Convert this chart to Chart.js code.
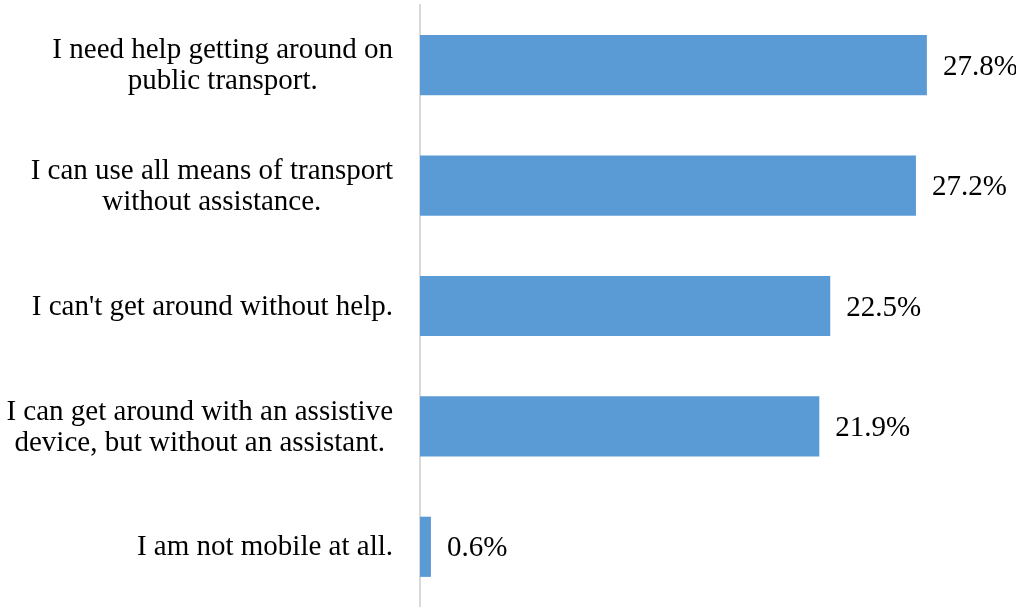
<!DOCTYPE html>
<html>
<head>
<meta charset="utf-8">
<script src="https://cdn.jsdelivr.net/npm/chart.js@4.4.1/dist/chart.umd.min.js"></script>
<style>
  html, body { margin: 0; padding: 0; background: #fff; }
  #wrap { width: 1016px; height: 607px; position: relative; }
</style>
</head>
<body>
<div id="wrap"><canvas id="chart1"></canvas></div>
<script>
const categories = [
  ['I need help getting around on', 'public transport.'],
  ['I can use all means of transport', 'without assistance.'],
  ["I can't get around without help."],
  ['I can get around with an assistive', 'device, but without an assistant.'],
  ['I am not mobile at all.']
];
const values = [27.8, 27.2, 22.5, 21.9, 0.6];

const FONT = '29px "Liberation Serif", "Times New Roman", serif';

// category labels: block right-aligned, lines centred inside the block
const catLabels = {
  id: 'catLabels',
  afterDraw(chart) {
    const ctx = chart.ctx;
    const y = chart.scales.y;
    ctx.save();
    ctx.font = FONT;
    ctx.fillStyle = '#000';
    ctx.textBaseline = 'middle';
    ctx.textAlign = 'center';
    const right = 393;
    const lh = 31;
    categories.forEach((lines, i) => {
      const cy = y.getPixelForValue(i) + 1;
      const w = Math.max(...lines.map(l => ctx.measureText(l).width));
      const cx = right - w / 2;
      const top = cy - (lines.length - 1) * lh / 2;
      lines.forEach((l, j) => ctx.fillText(l, cx, top + j * lh));
    });
    ctx.restore();
  }
};

// value labels right of each bar
const valueLabels = {
  id: 'valueLabels',
  afterDatasetsDraw(chart) {
    const ctx = chart.ctx;
    const meta = chart.getDatasetMeta(0);
    ctx.save();
    ctx.font = FONT;
    ctx.fillStyle = '#000';
    ctx.textBaseline = 'middle';
    ctx.textAlign = 'left';
    meta.data.forEach((bar, i) => {
      ctx.fillText(values[i].toFixed(1) + '%', bar.x + 16, bar.y + 2);
    });
    ctx.restore();
  }
};

function renderChart() {
  const ctx1 = document.getElementById('chart1');
  new Chart(ctx1, {
    type: 'bar',
    data: {
      labels: categories,
      datasets: [{
        data: values,
        backgroundColor: '#5B9BD5',
        borderWidth: 0,
        barPercentage: 0.5,
        categoryPercentage: 1
      }]
    },
    options: {
      indexAxis: 'y',
      responsive: true,
      maintainAspectRatio: false,
      animation: false,
      layout: { padding: { top: 5, bottom: -2, right: 49, left: 0 } },
      plugins: { legend: { display: false }, tooltip: { enabled: false } },
      scales: {
        x: {
          min: 0,
          max: 30,
          display: false
        },
        y: {
          grid: { display: false, drawTicks: false },
          border: { display: true, color: '#d9d9d9', width: 2 },
          ticks: { display: false },
          afterFit(scale) { scale.width = 420; }
        }
      }
    },
    plugins: [catLabels, valueLabels]
  });
}
renderChart();
</script>
</body>
</html>
